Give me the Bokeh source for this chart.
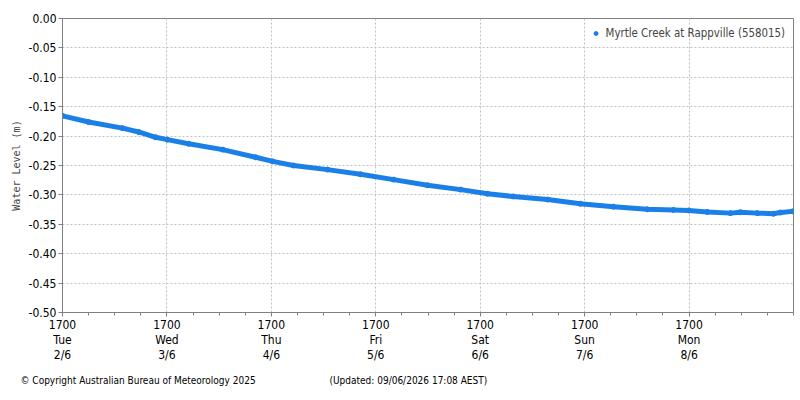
from bokeh.plotting import figure
from bokeh.layouts import column, row
from bokeh.models import FixedTicker, Range1d, Legend, LegendItem, NumeralTickFormatter
from bokeh.core.properties import value
from bokeh.embed import file_html
from bokeh.resources import INLINE

# hours since Tue 2/6 17:00
hours = [0, 6, 13.8, 17.5, 21.4, 24.1, 29.0, 36.8, 44.4, 48.3, 53.1, 60.9, 68.5, 76.1,
         83.9, 91.5, 97.7, 103.6, 111.5, 119.0, 126.6, 134.4, 140.4, 143.9, 148.2,
         153.5, 155.8, 159.7, 163.4, 165.0, 167.8]
level = [-0.1655, -0.176, -0.1865, -0.193, -0.202, -0.206, -0.213, -0.223, -0.236, -0.243,
         -0.250, -0.257, -0.265, -0.274, -0.2835, -0.291, -0.298, -0.3027, -0.308, -0.315,
         -0.320, -0.3245, -0.3255, -0.3265, -0.329, -0.331, -0.3295, -0.331, -0.332,
         -0.330, -0.328]
tick_hours = [0, 24, 48, 72, 96, 120, 144]
tick_labels = ["1700\nTue\n2/6", "1700\nWed\n3/6", "1700\nThu\n4/6", "1700\nFri\n5/6",
               "1700\nSat\n6/6", "1700\nSun\n7/6", "1700\nMon\n8/6"]
minor_hours = list(range(0, 169, 6))
y_ticks = [0.0, -0.05, -0.10, -0.15, -0.20, -0.25, -0.30, -0.35, -0.40, -0.45, -0.50]
series_name = "Myrtle Creek at Rappville (558015)"
y_title = "Water Level (m)"
footer_texts = ["\u00a9 Copyright Australian Bureau of Meteorology 2025",
                "(Updated: 09/06/2026 17:08 AEST)"]

FONT = "DejaVu Sans Condensed"
BLUE = "#1a80e8"
GRAY = "#808080"

p = figure(width=800, height=365, output_backend="svg", toolbar_location=None,
           x_range=Range1d(0, 168), y_range=Range1d(-0.5, 0.0),
           min_border_left=62, min_border_right=7, min_border_top=18, min_border_bottom=53)
p.outline_line_color = GRAY
p.outline_line_width = 1
p.background_fill_color = "white"
p.border_fill_color = "white"

p.line(hours, level, line_color=BLUE, line_width=5)
r = p.scatter(hours, level, size=5, color=BLUE)

p.xaxis.ticker = FixedTicker(ticks=tick_hours, minor_ticks=minor_hours)
p.xaxis.major_label_overrides = {h: l for h, l in zip(tick_hours, tick_labels)}
p.yaxis.ticker = FixedTicker(ticks=y_ticks)
p.yaxis.formatter = NumeralTickFormatter(format="0.00")
p.yaxis.axis_label = y_title
p.yaxis.axis_label_text_font = "DejaVu Sans Mono"
p.yaxis.axis_label_text_font_style = "normal"
p.yaxis.axis_label_text_font_size = "10px"
p.yaxis.axis_label_standoff = 4

for ax in (p.xaxis[0], p.yaxis[0]):
    ax.axis_line_color = GRAY
    ax.major_tick_line_color = GRAY
    ax.minor_tick_line_color = GRAY
    ax.major_tick_in = 0
    ax.major_tick_out = 4
    ax.minor_tick_in = 0
    ax.minor_tick_out = 3
    ax.major_label_text_font = FONT
    ax.major_label_text_font_size = "12px"
    ax.major_label_text_color = "black"
p.yaxis.minor_tick_line_color = None
p.xaxis.major_label_text_line_height = 1.1
p.xaxis.major_label_standoff = 1
p.yaxis.major_label_standoff = 2

p.grid.grid_line_color = "#c0c0c0"
p.grid.grid_line_dash = "2 2"
p.grid.grid_line_width = 1

legend = Legend(items=[LegendItem(label=series_name, renderers=[r])], location="top_right",
                background_fill_alpha=0, border_line_alpha=0, label_text_font=FONT,
                label_text_font_size="11.4px", glyph_width=10, glyph_height=10,
                label_standoff=5, margin=6, padding=2, spacing=0)
p.add_layout(legend)

# footer strip: x in px from left, y in px from bottom
f = figure(width=800, height=35, output_backend="svg", toolbar_location=None,
           x_axis_type=None, y_axis_type=None,
           x_range=Range1d(0, 800), y_range=Range1d(0, 35),
           min_border=0, min_border_left=0, min_border_right=0, min_border_top=0,
           min_border_bottom=0)
f.grid.visible = False
f.outline_line_color = None
f.background_fill_color = "white"
f.border_fill_color = "white"
f.text(x=[20, 329], y=[20, 20], text=footer_texts, text_font=value(FONT),
       text_font_size="10px", text_baseline="middle", text_align="left", text_color="black")

layout = column(row(p), row(f), spacing=0)
open("out.html", "w").write(file_html(layout, INLINE))
